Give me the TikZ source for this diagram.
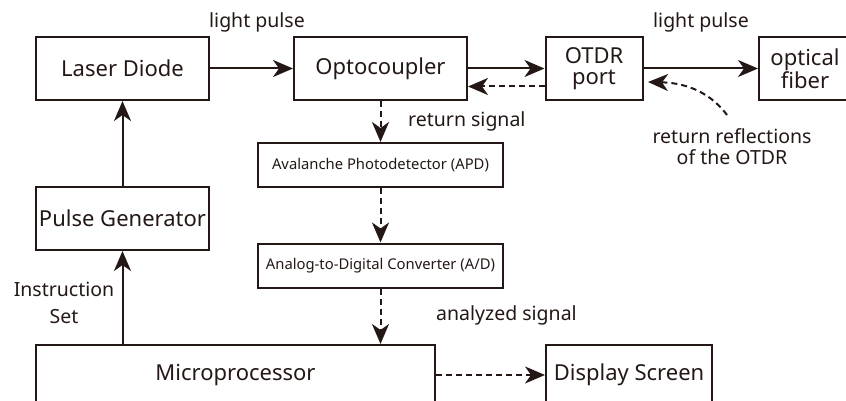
\documentclass[tikz,border=0pt]{standalone}
\usepackage{fontspec}
\setmainfont{Noto Sans}
\usetikzlibrary{arrows.meta}
\definecolor{ink}{HTML}{231815}
\begin{document}
\begin{tikzpicture}[x=1pt,y=-1pt,
  box/.style={draw=ink, text=ink, line width=2pt, minimum width=#1, inner sep=0pt, font=\fontsize{22}{21}\selectfont, align=center},
  small/.style={draw=ink, text=ink, line width=2pt, minimum width=245pt, minimum height=44pt, inner sep=0pt, font=\fontsize{14.8}{17}\selectfont},
  lbl/.style={text=ink, font=\fontsize{19.5}{21}\selectfont, align=center, inner sep=0pt},
  flow/.style={line width=2pt, draw=ink, -{Stealth[length=20pt,width=17pt,inset=6pt]}},
  dflow/.style={flow, dash pattern=on 6pt off 4pt}]
\useasboundingbox (0,0) rectangle (846,401);
\clip (0,0) rectangle (846,401);

% top row
\node[box=173pt, minimum height=63pt] (laser) at (122.5,68.5) {Laser Diode};
\node[box=173pt, minimum height=63pt] (opto) at (380.5,68.5) {Optocoupler};
\node[box=97pt, minimum height=63pt] (port) at (594,68.5) {OTDR\\port};
\node[box=92pt, minimum height=63pt] (fiber) at (805,68.5) {optical\\fiber};

% left column
\node[box=173pt, minimum height=63pt] (pulse) at (122.5,218.5) {Pulse Generator};
\node[box=399pt, minimum height=60pt] (micro) at (235.5,375) {Microprocessor};
\node[box=166pt, minimum height=60pt] (screen) at (629,375) {Display Screen};

% receiver chain
\node[small] (apd) at (380.5,165) {Avalanche Photodetector (APD)};
\node[small] (adc) at (380.5,265.5) {Analog-to-Digital Converter (A/D)};

% connectors
\draw[flow] (micro.north -| pulse.south) -- (pulse.south);
\draw[flow] (pulse.north) -- (laser.south);
\draw[flow] (laser.east) -- (opto.west);
\draw[flow] (opto.east) -- (port.west);
\draw[flow] (port.east) -- (fiber.west);
\draw[dflow] ([yshift=-18pt]port.west) -- ([yshift=-18pt]opto.east);
\draw[dflow] (opto.south) -- (apd.north);
\draw[dflow] (apd.south) -- (adc.north);
\draw[dflow] (adc.south) -- (adc.south |- micro.north);
\draw[dflow] (micro.east |- screen.west) -- (screen.west);

% reflection returning from the fibre
\coordinate (refl) at (727,115);
\coordinate (refltip) at (648,82);
\draw[dflow] (refl) .. controls (712,95) and (690,83) .. (refltip);

% labels
\node[lbl] (lp1) at (257,22) {light pulse};
\node[lbl] (lp2) at (701,22) {light pulse};
\node[lbl, anchor=west] (rs) at (408,121) {return signal};
\node[lbl] (rr) at (732,147) {return reflections\\of the OTDR};
\node[lbl, anchor=west] (as) at (436,315) {analyzed signal};
\node[lbl, font=\fontsize{19.5}{27}\selectfont] (is) at (64,303) {Instruction\\Set};
\end{tikzpicture}
\end{document}
